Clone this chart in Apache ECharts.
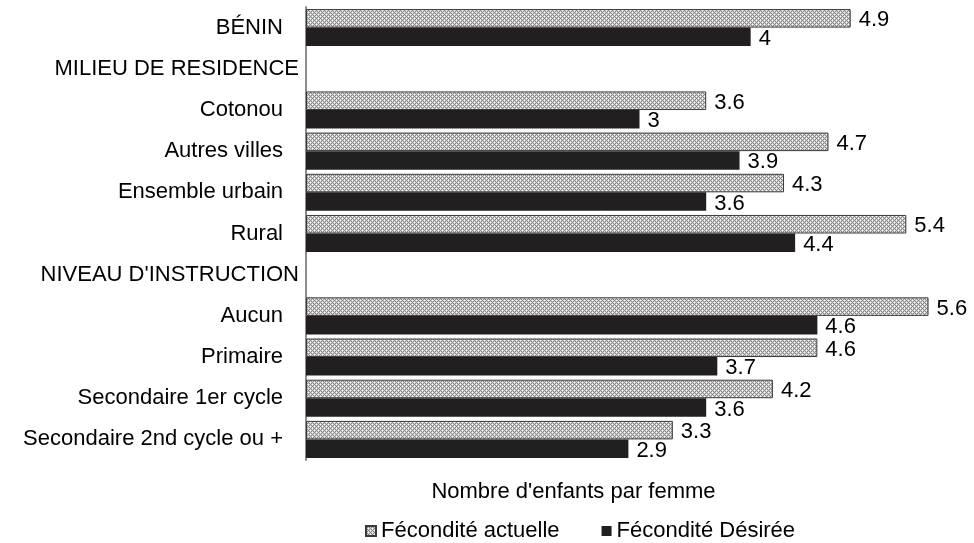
<!DOCTYPE html>
<html>
<head>
<meta charset="utf-8">
<script src="https://cdn.jsdelivr.net/npm/echarts@6/dist/echarts.min.js"></script>
<style>
  html, body { margin: 0; padding: 0; background: #fff; }
  #chart { width: 974px; height: 543px; }
</style>
</head>
<body>
<div id="chart"></div>
<script>
// categories (section headers have no values)
const categories = [
  'BÉNIN',
  'MILIEU DE RESIDENCE',
  'Cotonou',
  'Autres villes',
  'Ensemble urbain',
  'Rural',
  "NIVEAU D'INSTRUCTION",
  'Aucun',
  'Primaire',
  'Secondaire 1er cycle',
  'Secondaire 2nd cycle ou +'
]
const headers = ['MILIEU DE RESIDENCE', "NIVEAU D'INSTRUCTION"]

const feconditeActuelle = [4.9, null, 3.6, 4.7, 4.3, 5.4, null, 5.6, 4.6, 4.2, 3.3]
const feconditeDesiree = [4.0, null, 3.0, 3.9, 3.6, 4.4, null, 4.6, 3.7, 3.6, 2.9]

const seriesNames = ['Fécondité actuelle', 'Fécondité Désirée']
const axisName = "Nombre d'enfants par femme"

// hatched fill for the first series
function makePattern() {
  const c = document.createElement('canvas')
  c.width = 4
  c.height = 4
  const ctx = c.getContext('2d')
  ctx.fillStyle = '#888888'
  ctx.fillRect(0, 0, 4, 4)
  ctx.fillStyle = '#ffffff'
  ctx.fillRect(0, 0, 1, 1)
  ctx.fillRect(2, 2, 1, 1)
  ctx.fillStyle = '#cfcfcf'
  ctx.fillRect(1, 0, 1, 1)
  ctx.fillRect(0, 1, 1, 1)
  ctx.fillRect(3, 0, 1, 1)
  ctx.fillRect(0, 3, 1, 1)
  ctx.fillRect(3, 2, 1, 1)
  ctx.fillRect(2, 3, 1, 1)
  ctx.fillRect(1, 2, 1, 1)
  ctx.fillRect(2, 1, 1, 1)
  return c
}

const font = '"Liberation Sans", Arial, sans-serif'
const fs = 22
const chart = echarts.init(document.getElementById('chart'))

chart.setOption({
  animation: false,
  textStyle: { fontFamily: font },
  grid: { left: 306, right: 1, top: 7, bottom: 83, containLabel: false },
  xAxis: {
    type: 'value',
    min: 0,
    max: 6,
    axisLine: { show: false },
    axisTick: { show: false },
    axisLabel: { show: false },
    splitLine: { show: false },
    name: axisName,
    nameLocation: 'middle',
    nameGap: 21,
    nameTextStyle: { fontSize: fs, color: '#000', fontFamily: font, padding: [0, 132, 0, 0] }
  },
  yAxis: {
    type: 'category',
    data: categories,
    inverse: true,
    axisLine: { lineStyle: { color: '#8c8c8c', width: 2 } },
    axisTick: { show: false },
    axisLabel: {
      margin: 7,
      fontSize: fs,
      color: '#000',
      fontFamily: font,
      formatter: (v) => headers.includes(v) ? '{h|' + v + '}' : '{n|' + v + '}',
      rich: {
        h: { fontSize: fs, color: '#000', fontFamily: font },
        n: { fontSize: fs, color: '#000', fontFamily: font, padding: [0, 16, 0, 0] }
      }
    }
  },
  legend: {
    left: 360,
    top: 515,
    itemWidth: 10,
    itemHeight: 10,
    itemGap: 42,
    icon: 'rect',
    textStyle: { fontSize: fs, color: '#000', fontFamily: font },
    data: seriesNames
  },
  series: [
    {
      name: seriesNames[0],
      type: 'bar',
      data: feconditeActuelle,
      barGap: '0%',
      barCategoryGap: '10%',
      itemStyle: {
        color: { image: makePattern(), repeat: 'repeat' },
        borderColor: '#3a3a3a',
        borderWidth: 1
      },
      label: { show: true, position: 'right', distance: 8, offset: [0, 2], fontSize: fs, color: '#000', fontFamily: font }
    },
    {
      name: seriesNames[1],
      type: 'bar',
      data: feconditeDesiree,
      itemStyle: { color: '#231f20' },
      label: { show: true, position: 'right', distance: 8, offset: [0, 2], fontSize: fs, color: '#000', fontFamily: font }
    }
  ]
})
</script>
</body>
</html>
